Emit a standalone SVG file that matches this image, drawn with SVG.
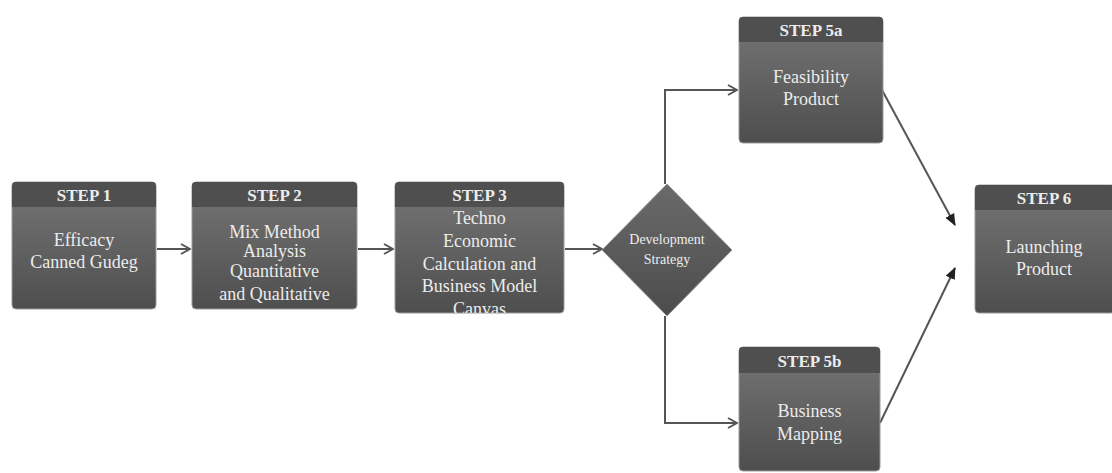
<svg xmlns="http://www.w3.org/2000/svg" width="1112" height="473" viewBox="0 0 1112 473">
<style>
.box{fill:url(#body);stroke:#9a9a9a;stroke-width:1}
.hdr{fill:#4f4f4f}
.t{font-family:"Liberation Serif","Times New Roman",serif;fill:#ececec;text-anchor:middle}
.h{font-size:17px;font-weight:bold}
.b{font-size:18px}
.c{fill:none;stroke:#555;stroke-width:2}
</style>
<defs>
<linearGradient id="body" x1="0" y1="0" x2="0" y2="1">
<stop offset="0" stop-color="#767676"/>
<stop offset="1" stop-color="#4e4e4e"/>
</linearGradient>
<linearGradient id="dia" x1="0" y1="0" x2="0" y2="1">
<stop offset="0" stop-color="#6a6a6a"/>
<stop offset="1" stop-color="#4c4c4c"/>
</linearGradient>
<marker id="open" viewBox="0 0 12 12" refX="11" refY="6" markerWidth="12" markerHeight="12" markerUnits="userSpaceOnUse" orient="auto">
<path d="M2,1 L11,6 L2,11" fill="none" stroke="#555" stroke-width="2"/>
</marker>
<marker id="solid" viewBox="0 0 12 12" refX="11" refY="6" markerWidth="12" markerHeight="12" markerUnits="userSpaceOnUse" orient="auto">
<path d="M0,1 L12,6 L0,11 Z" fill="#222"/>
</marker>
<clipPath id="c3"><rect x="395" y="182" width="169" height="131" rx="4"/></clipPath>
</defs>
<rect width="1112" height="473" fill="#fff"/>
<g id="connectors">
<line class="c" x1="157" y1="249" x2="190" y2="249" marker-end="url(#open)"/>
<line class="c" x1="358" y1="249" x2="393" y2="249" marker-end="url(#open)"/>
<line class="c" x1="565" y1="249" x2="602" y2="249" marker-end="url(#open)"/>
<polyline class="c" points="665,184 665,90 737,90" marker-end="url(#open)"/>
<polyline class="c" points="665,316 665,423 737,423" marker-end="url(#open)"/>
<line class="c" x1="882" y1="90" x2="955" y2="225" marker-end="url(#solid)"/>
<line class="c" x1="880" y1="423" x2="955" y2="268" marker-end="url(#solid)"/>
</g>
<g id="step1">
<rect class="box" x="12" y="182" width="144" height="127" rx="4"/>
<path class="hdr" d="M16,182 H152 Q156,182 156,186 V207 H12 V186 Q12,182 16,182 Z"/>
<text class="t h" x="84" y="201">STEP 1</text>
<text class="t b" x="84" y="246">Efficacy</text>
<text class="t b" x="84" y="268">Canned Gudeg</text>
</g>
<g id="step2">
<rect class="box" x="192" y="182" width="165" height="127" rx="4"/>
<path class="hdr" d="M196,182 H353 Q357,182 357,186 V207 H192 V186 Q192,182 196,182 Z"/>
<text class="t h" x="274.5" y="201">STEP 2</text>
<text class="t b" x="274.5" y="238">Mix Method</text>
<text class="t b" x="274.5" y="257">Analysis</text>
<text class="t b" x="274.5" y="277">Quantitative</text>
<text class="t b" x="274.5" y="300">and Qualitative</text>
</g>
<g id="step3">
<rect class="box" x="395" y="182" width="169" height="131" rx="4"/>
<path class="hdr" d="M399,182 H560 Q564,182 564,186 V207 H395 V186 Q395,182 399,182 Z"/>
<text class="t h" x="479.5" y="201">STEP 3</text>
<g clip-path="url(#c3)">
<text class="t b" x="479.5" y="224">Techno</text>
<text class="t b" x="479.5" y="247">Economic</text>
<text class="t b" x="479.5" y="270">Calculation and</text>
<text class="t b" x="479.5" y="292">Business Model</text>
<text class="t b" x="479.5" y="315">Canvas</text>
</g>
</g>
<g id="strategy">
<polygon points="667,184 732,250 667,316 602,250" fill="url(#dia)" stroke="#9a9a9a" stroke-width="1"/>
<text class="t" x="667" y="244" font-size="14">Development</text>
<text class="t" x="667" y="264" font-size="14">Strategy</text>
</g>
<g id="step5a">
<rect class="box" x="739" y="17" width="144" height="126" rx="4"/>
<path class="hdr" d="M743,17 H879 Q883,17 883,21 V42 H739 V21 Q739,17 743,17 Z"/>
<text class="t h" x="811" y="36">STEP 5a</text>
<text class="t b" x="811" y="83">Feasibility</text>
<text class="t b" x="811" y="105">Product</text>
</g>
<g id="step5b">
<rect class="box" x="739" y="347" width="141" height="124" rx="4"/>
<path class="hdr" d="M743,347 H876 Q880,347 880,351 V373 H739 V351 Q739,347 743,347 Z"/>
<text class="t h" x="809.5" y="367">STEP 5b</text>
<text class="t b" x="809.5" y="417">Business</text>
<text class="t b" x="809.5" y="440">Mapping</text>
</g>
<g id="step6">
<rect class="box" x="975" y="185" width="140" height="128" rx="4"/>
<path class="hdr" d="M979,185 H1115 V210 H975 V189 Q975,185 979,185 Z"/>
<text class="t h" x="1044" y="204">STEP 6</text>
<text class="t b" x="1044" y="253">Launching</text>
<text class="t b" x="1044" y="275">Product</text>
</g>
</svg>
